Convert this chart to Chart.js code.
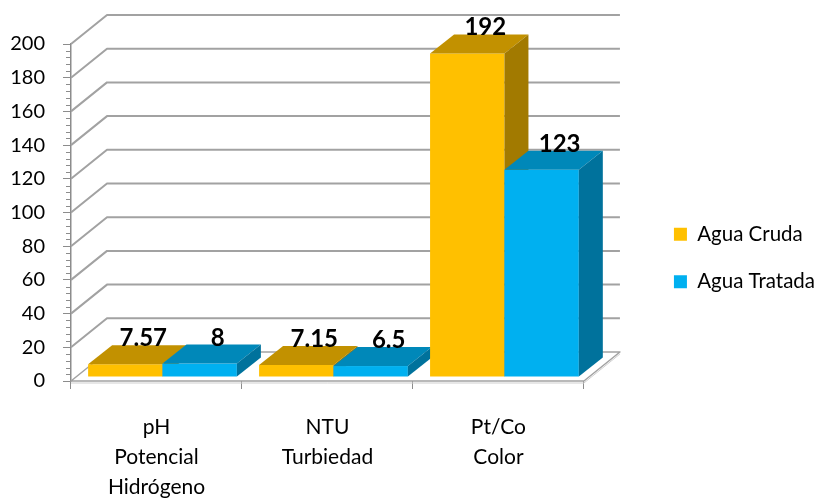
<!DOCTYPE html>
<html>
<head>
<meta charset="utf-8">
<script src="https://cdn.jsdelivr.net/npm/chart.js@4.4.1/dist/chart.umd.min.js"></script>
<style>
  html, body { margin: 0; padding: 0; background: #fff; }
  #wrap { width: 825px; height: 500px; }
</style>
</head>
<body>
<div id="wrap"><canvas id="chart"></canvas></div>
<script>
// Data
const categories = [['pH', 'Potencial', 'Hidrógeno'], ['NTU', 'Turbiedad'], ['Pt/Co', 'Color']];
const seriesNames = ['Agua Cruda', 'Agua Tratada'];
const aguaCruda = [7.57, 7.15, 192];
const aguaTratada = [8, 6.5, 123];
const yMin = 0;
const yMax = 200;
const yStep = 20;
const yMinorStep = 4;

// Face colours for each series: front, top, right side
const faceColors = [
  { front: '#FFC000', top: '#C29100', side: '#A27A00' },
  { front: '#00B0F0', top: '#0088B9', side: '#00729C' }
];

// Depth of the walls/floor and of the bars (oblique projection)
const wallDepth = { dx: 36, dy: -29 };
const barDepth = { dx: 24, dy: -19 };
const barShift = { dx: (wallDepth.dx - barDepth.dx) / 2, dy: -4 };
const gridColor = '#a2a2a2';
const labelDx = 18;

// extra room between the plot and the legend, and legend lift
const legendGap = 63;
const legendLift = 14;

const FONT = 'Lato, "Open Sans", sans-serif';

const legendRoom = {
  id: 'legendRoom',
  beforeLayout(chart) {
    const legend = chart.legend;
    if (legend && !legend._roomAdded) {
      const fit = legend.fit;
      legend.fit = function () {
        fit.call(this);
        this.width += legendGap;
      };
      legend._roomAdded = true;
    }
  },
  afterLayout(chart) {
    const legend = chart.legend;
    legend.left += legendGap;
    legend.top -= legendLift;
    legend.bottom -= legendLift;
  }
};

const box3d = {
  id: 'box3d',
  beforeDatasetsDraw(chart) {
    const { ctx, chartArea: a, scales: { y } } = chart;
    const y0 = y.getPixelForValue(yMin);
    ctx.save();
    ctx.lineJoin = 'round';

    // floor slab
    ctx.beginPath();
    ctx.moveTo(a.left, y0);
    ctx.lineTo(a.right, y0);
    ctx.lineTo(a.right + wallDepth.dx, y0 + wallDepth.dy);
    ctx.lineTo(a.left + wallDepth.dx, y0 + wallDepth.dy);
    ctx.closePath();
    ctx.fillStyle = '#fff';
    ctx.fill();
    ctx.strokeStyle = gridColor;
    ctx.lineWidth = 1.5;
    ctx.stroke();
    ctx.beginPath();
    ctx.moveTo(a.left, y0 + 2);
    ctx.lineTo(a.right, y0 + 2);
    ctx.lineTo(a.right + wallDepth.dx, y0 + wallDepth.dy + 2);
    ctx.strokeStyle = '#cfcfcf';
    ctx.lineWidth = 1;
    ctx.stroke();

    // gridlines along the left wall and the back wall
    ctx.strokeStyle = gridColor;
    ctx.lineWidth = 2;
    y.ticks.forEach(t => {
      if (t.value === yMin) return;
      const py = y.getPixelForValue(t.value);
      ctx.beginPath();
      ctx.moveTo(a.left, py);
      ctx.lineTo(a.left + wallDepth.dx, py + wallDepth.dy);
      ctx.lineTo(a.right + wallDepth.dx, py + wallDepth.dy);
      ctx.stroke();
    });

    // minor ticks on the value axis
    ctx.strokeStyle = '#8c8c8c';
    ctx.lineWidth = 1;
    for (let v = yMin; v <= yMax; v += yMinorStep) {
      if (v % yStep === 0) continue;
      const py = Math.round(y.getPixelForValue(v)) + 0.5;
      ctx.beginPath();
      ctx.moveTo(a.left - 5, py);
      ctx.lineTo(a.left, py);
      ctx.stroke();
    }
    ctx.restore();
  },
  // bars are drawn below as boxes, so skip the flat ones
  beforeDatasetDraw() {
    return false;
  },
  afterDatasetsDraw(chart) {
    const { ctx } = chart;
    const bars = [];
    chart.data.datasets.forEach((ds, i) => {
      chart.getDatasetMeta(i).data.forEach((bar, j) => {
        bars.push({ bar, i, value: ds.data[j] });
      });
    });
    // left to right so later boxes cover the side faces of earlier ones
    bars.sort((p, q) => p.bar.x - q.bar.x);

    ctx.save();
    bars.forEach(({ bar, i }) => {
      const { x, y, base, width } = bar.getProps(['x', 'y', 'base', 'width'], true);
      const c = faceColors[i];
      const l = x - width / 2 + barShift.dx;
      const r = x + width / 2 + barShift.dx;
      const t = y + barShift.dy;
      const b = base + barShift.dy;

      ctx.fillStyle = c.front;
      ctx.fillRect(l, t, r - l, b - t);

      ctx.beginPath();
      ctx.moveTo(l, t);
      ctx.lineTo(r, t);
      ctx.lineTo(r + barDepth.dx, t + barDepth.dy);
      ctx.lineTo(l + barDepth.dx, t + barDepth.dy);
      ctx.closePath();
      ctx.fillStyle = c.top;
      ctx.fill();

      ctx.beginPath();
      ctx.moveTo(r, t);
      ctx.lineTo(r + barDepth.dx, t + barDepth.dy);
      ctx.lineTo(r + barDepth.dx, b + barDepth.dy);
      ctx.lineTo(r, b);
      ctx.closePath();
      ctx.fillStyle = c.side;
      ctx.fill();
    });

    // value labels above each box
    ctx.font = 'bold 24px ' + FONT;
    ctx.fillStyle = '#000';
    ctx.textAlign = 'center';
    ctx.textBaseline = 'alphabetic';
    bars.forEach(({ bar, value }) => {
      const { x, y } = bar.getProps(['x', 'y'], true);
      ctx.fillText(String(value), x + barShift.dx + labelDx, y + barShift.dy + barDepth.dy + 1);
    });
    ctx.restore();
  }
};

new Chart(document.getElementById('chart'), {
  type: 'bar',
  data: {
    labels: categories,
    datasets: [
      { label: seriesNames[0], data: aguaCruda, backgroundColor: faceColors[0].front },
      { label: seriesNames[1], data: aguaTratada, backgroundColor: faceColors[1].front }
    ]
  },
  options: {
    responsive: true,
    maintainAspectRatio: false,
    animation: false,
    categoryPercentage: 0.87,
    barPercentage: 1.0,
    layout: { padding: { top: 44, right: 0, bottom: 0, left: 0 } },
    plugins: {
      tooltip: { enabled: false },
      legend: {
        position: 'right',
        labels: {
          boxWidth: 13,
          boxHeight: 13,
          padding: 27,
          color: '#000',
          font: { size: 20.5, family: FONT }
        }
      }
    },
    scales: {
      x: {
        grid: { drawOnChartArea: false, drawTicks: true, tickLength: 8, color: '#8c8c8c' },
        border: { display: false },
        ticks: {
          color: '#000',
          padding: 23,
          font: { size: 21, family: FONT, lineHeight: 1.43 }
        },
        afterFit(scale) { scale.height = 119; }
      },
      y: {
        min: yMin,
        max: yMax,
        ticks: {
          stepSize: yStep,
          color: '#000',
          padding: 18,
          font: { size: 20, family: FONT }
        },
        grid: { drawOnChartArea: false, drawTicks: true, tickLength: 8, color: '#8c8c8c' },
        border: { display: true, color: '#8c8c8c', width: 1.5 },
        afterFit(scale) { scale.width = 71; }
      }
    }
  },
  plugins: [legendRoom, box3d]
});
</script>
</body>
</html>
